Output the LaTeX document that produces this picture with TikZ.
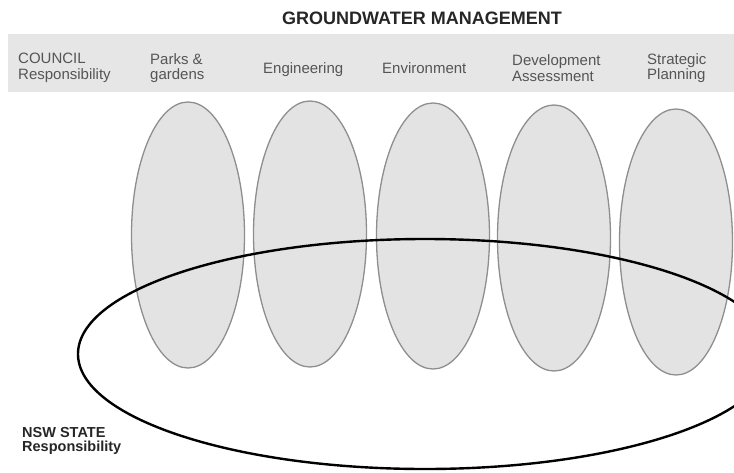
\documentclass[tikz,border=0pt]{standalone}
\usepackage{fontspec}
\setsansfont{Liberation Sans}
\usepackage{xcolor}
\usetikzlibrary{shapes.geometric}
\definecolor{band}{HTML}{E6E6E6}
\definecolor{lobe}{HTML}{E3E3E3}
\definecolor{lobeline}{HTML}{8E8E8E}
\definecolor{labelgrey}{HTML}{555555}
\definecolor{headgrey}{HTML}{262626}

\begin{document}
\begin{tikzpicture}[
  x=1pt,y=-1pt,
  font=\sffamily,
  head/.style={inner sep=0pt,text=headgrey,font=\sffamily\bfseries\fontsize{18}{20}\selectfont},
  lbl/.style={anchor=west,align=left,inner sep=0pt,text=labelgrey,
              font=\sffamily\fontsize{15}{15.5}\selectfont},
  lbl1/.style={lbl,anchor=base west},
  lobe/.style={ellipse,draw=lobeline,fill=lobe,line width=1.3pt,inner sep=0pt,
               minimum width=113pt,minimum height=266pt},
  state/.style={ellipse,draw=black,line width=2.4pt,inner sep=0pt,
                minimum width=694pt,minimum height=230pt}
]
\useasboundingbox (0,0) rectangle (734,472);

\node[head] (title) at (422,18) {GROUNDWATER MANAGEMENT};
\fill[band] (8,34) rectangle (734,92);

\node[lbl]  (council) at (18,68) {COUNCIL\\Responsibility};
\node[lbl]  (parks)   at (150,68) {Parks \&\\gardens};
\node[lbl1] (eng)     at (263,73) {Engineering};
\node[lbl1] (env)     at (382,73) {Environment};
\node[lbl]  (dev)     at (512,68) {Development\\Assessment};
\node[lbl]  (strat)   at (647,68) {Strategic\\Planning};

\node[lobe] (parksL) at (188,235) {};
\node[lobe] (engL)   at (310,234) {};
\node[lobe] (envL)   at (433,236) {};
\node[lobe] (devL)   at (554,238) {};
\node[lobe] (stratL) at (676,242) {};

\node[state] (nsw) at (425,354) {};

\node[lbl,text=headgrey,font=\sffamily\bfseries\fontsize{14.5}{14.5}\selectfont]
  (nswlbl) at (22,441) {NSW STATE\\Responsibility};
\end{tikzpicture}
\end{document}
